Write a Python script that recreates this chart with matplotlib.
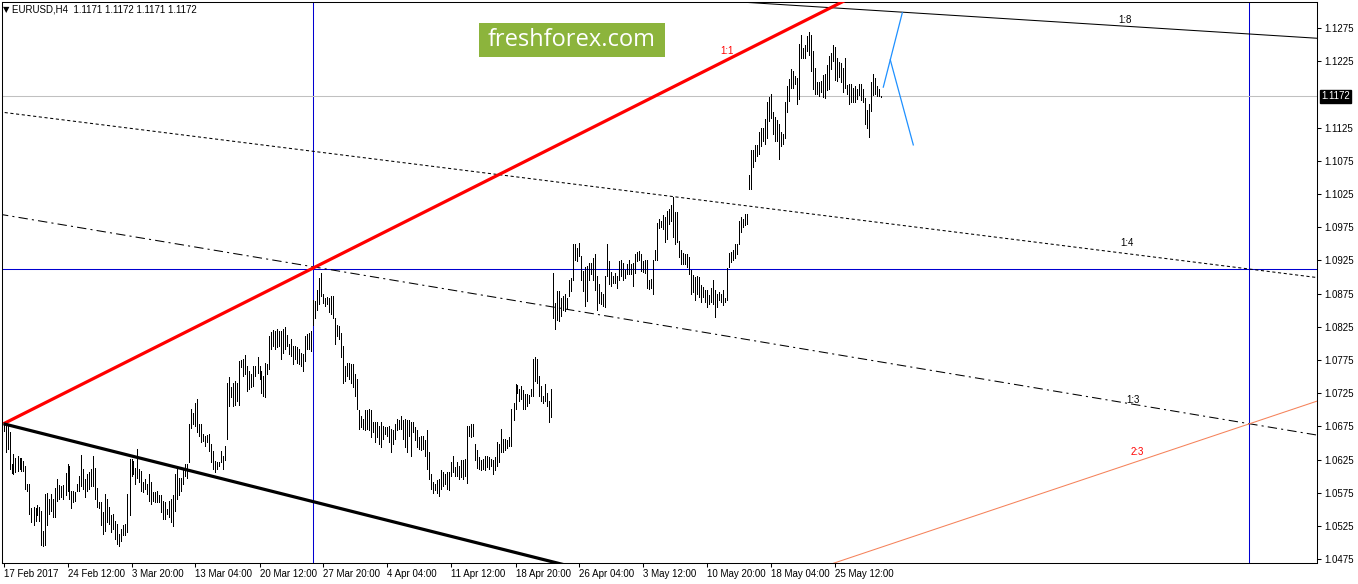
import matplotlib
matplotlib.use("Agg")
import matplotlib.pyplot as pl
import matplotlib.transforms as mtransforms
from matplotlib.patches import Rectangle
import numpy as np

WIDTH, HEIGHT, DPI = 1358, 584, 100

# H4 bar highs / lows in pips (1 pip = 0.0001)
highPips = [
	10680, 10680, 10676, 10667, 10618, 10633, 10628, 10631, 10628, 10627,
	10623, 10616, 10589, 10589, 10552, 10553, 10552, 10556, 10553, 10547,
	10518, 10573, 10575, 10566, 10573, 10566, 10583, 10596, 10587, 10586,
	10587, 10605, 10618, 10616, 10578, 10577, 10576, 10588, 10601, 10632,
	10611, 10596, 10603, 10606, 10611, 10631, 10612, 10583, 10561, 10561,
	10546, 10573, 10566, 10553, 10541, 10543, 10533, 10528, 10513, 10521,
	10526, 10528, 10573, 10626, 10626, 10623, 10613, 10641, 10611, 10608,
	10591, 10596, 10588, 10603, 10591, 10576, 10576, 10578, 10571, 10572,
	10563, 10561, 10551, 10563, 10566, 10571, 10603, 10613, 10598, 10598,
	10611, 10618, 10618, 10678, 10701, 10695, 10711, 10716, 10679, 10678,
	10663, 10661, 10662, 10663, 10648, 10638, 10623, 10621, 10622, 10638, 10631,
	10646, 10741, 10749, 10734, 10741, 10744, 10741, 10774, 10775, 10776,
	10782, 10766, 10759, 10754, 10766, 10766, 10779, 10766, 10759, 10751,
	10771, 10769, 10811, 10817, 10820, 10819, 10821, 10819, 10819, 10821,
	10825, 10812, 10799, 10806, 10796, 10796, 10794, 10791, 10786, 10784,
	10811, 10814, 10816, 10819, 10866, 10864, 10881, 10899, 10906, 10874,
	10869, 10870, 10869, 10871, 10872, 10839, 10827, 10826, 10816, 10796,
	10766, 10771, 10771, 10769, 10769, 10754, 10746, 10699, 10691, 10686,
	10699, 10699, 10701, 10699, 10681, 10682, 10681, 10676, 10681, 10676,
	10674, 10674, 10676, 10671, 10669, 10679, 10686, 10684, 10691, 10684,
	10686, 10684, 10684, 10681, 10681, 10674, 10669, 10659, 10661, 10661,
	10654, 10669, 10636, 10604, 10591, 10589, 10594, 10596, 10609, 10606,
	10604, 10606, 10607, 10621, 10631, 10614, 10621, 10616, 10624, 10624,
	10626, 10675, 10676, 10679, 10679, 10649, 10639, 10629, 10624, 10626,
	10631, 10631, 10629, 10626, 10624, 10629, 10652, 10649, 10671, 10656,
	10656, 10655, 10659, 10701, 10711, 10739, 10737, 10731, 10736, 10730,
	10724, 10724, 10722, 10731, 10776, 10779, 10777, 10751, 10736, 10721,
	10739, 10726, 10714, 10732, 10906, 10861, 10879, 10879, 10869, 10871,
	10874, 10869, 10896, 10899, 10950, 10950, 10944, 10951, 10931, 10909,
	10915, 10917, 10921, 10921, 10929, 10935, 10901, 10889, 10877, 10874,
	10902, 10949, 10924, 10907, 10901, 10906, 10901, 10924, 10926, 10921,
	10911, 10919, 10926, 10919, 10921, 10934, 10937, 10939, 10934, 10924,
	10926, 10926, 10896, 10897, 10926, 10941, 10981, 10987, 10984,
	10993, 10991, 11000, 11003, 11008, 11020, 10998, 10998, 10955, 10940,
	10936, 10935, 10935, 10930, 10910, 10903, 10900, 10901, 10900, 10888,
	10885, 10880, 10880, 10873, 10883, 10895, 10880, 10875, 10878, 10875,
	10880, 10868, 10913, 10936, 10938, 10940, 10950, 10950, 10985, 10991,
	10988, 10995, 10995, 11053, 11091, 11091, 11099, 11099, 11118, 11124,
	11124, 11138, 11164, 11171, 11175, 11149, 11141, 11136, 11130, 11118,
	11115, 11163, 11188, 11198, 11214, 11211, 11203, 11200, 11251, 11265,
	11245, 11250, 11263, 11269, 11265, 11240, 11215, 11194, 11193, 11195,
	11205, 11206, 11220, 11233, 11238, 11250, 11246, 11230, 11224, 11223,
	11215, 11230, 11189, 11190, 11190, 11185, 11188, 11183, 11191, 11190,
	11183, 11170, 11151, 11161, 11193, 11206, 11199, 11188, 11183, 11172,
]

lowPips = [
	10668, 10637, 10641, 10611, 10605, 10603, 10607, 10608, 10611, 10608,
	10608, 10581, 10577, 10543, 10531, 10526, 10533, 10541, 10533, 10496,
	10495, 10496, 10527, 10543, 10548, 10538, 10538, 10563, 10566, 10568,
	10566, 10571, 10578, 10566, 10552, 10561, 10563, 10577, 10578, 10586,
	10581, 10568, 10578, 10581, 10586, 10586, 10566, 10553, 10552, 10526,
	10513, 10518, 10531, 10528, 10516, 10521, 10506, 10498, 10495, 10503,
	10511, 10511, 10516, 10541, 10601, 10603, 10588, 10598, 10591, 10578,
	10576, 10581, 10573, 10563, 10558, 10563, 10561, 10561, 10561, 10546,
	10536, 10536, 10543, 10538, 10531, 10525, 10548, 10566, 10572, 10578,
	10588, 10601, 10598, 10621, 10673, 10678, 10676, 10666, 10661, 10651,
	10653, 10646, 10651, 10638, 10621, 10611, 10606, 10611, 10615, 10621, 10611,
	10624, 10656, 10706, 10719, 10706, 10708, 10714, 10708, 10765, 10751,
	10754, 10729, 10731, 10734, 10736, 10751, 10756, 10746, 10726, 10721,
	10719, 10754, 10761, 10791, 10796, 10791, 10794, 10796, 10776, 10786,
	10791, 10796, 10784, 10781, 10769, 10776, 10771, 10769, 10766, 10759,
	10774, 10791, 10791, 10789, 10827, 10839, 10851, 10859, 10871, 10861,
	10856, 10859, 10847, 10844, 10839, 10799, 10811, 10806, 10779, 10741,
	10744, 10751, 10746, 10741, 10734, 10721, 10701, 10671, 10674, 10671,
	10669, 10671, 10669, 10659, 10666, 10651, 10659, 10649, 10644, 10656,
	10664, 10661, 10651, 10636, 10649, 10656, 10669, 10671, 10671, 10656,
	10644, 10636, 10661, 10631, 10666, 10654, 10644, 10641, 10639, 10641,
	10631, 10611, 10596, 10581, 10574, 10579, 10574, 10570, 10581, 10586,
	10589, 10581, 10579, 10601, 10606, 10601, 10601, 10596, 10599, 10596,
	10601, 10590, 10660, 10659, 10661, 10624, 10612, 10611, 10609, 10611,
	10609, 10614, 10611, 10616, 10604, 10609, 10616, 10621, 10636, 10636,
	10639, 10642, 10646, 10646, 10684, 10701, 10726, 10714, 10716, 10701,
	10701, 10706, 10711, 10721, 10721, 10744, 10741, 10721, 10714, 10711,
	10714, 10706, 10682, 10689, 10839, 10821, 10836, 10834, 10841, 10851,
	10849, 10854, 10871, 10879, 10896, 10926, 10924, 10931, 10896, 10879,
	10856, 10864, 10896, 10904, 10896, 10881, 10851, 10861, 10859, 10856,
	10855, 10901, 10889, 10886, 10891, 10891, 10884, 10896, 10901, 10896,
	10899, 10904, 10904, 10904, 10887, 10906, 10924, 10926, 10909, 10907,
	10906, 10884, 10882, 10884, 10874, 10926, 10926, 10974, 10975,
	10973, 10953, 10958, 10980, 10985, 10960, 10950, 10953, 10930, 10919,
	10920, 10920, 10915, 10904, 10875, 10878, 10866, 10875, 10870, 10863,
	10870, 10863, 10855, 10860, 10863, 10860, 10840, 10855, 10865, 10863,
	10858, 10863, 10865, 10915, 10923, 10925, 10928, 10935, 10950, 10968,
	10975, 10978, 10980, 11033, 11033, 11065, 11075, 11083, 11085, 11098,
	11105, 11100, 11110, 11135, 11140, 11115, 11105, 11105, 11078, 11098,
	11100, 11110, 11148, 11165, 11185, 11185, 11190, 11161, 11168, 11230,
	11230, 11230, 11240, 11235, 11211, 11183, 11175, 11176, 11173, 11178,
	11171, 11170, 11181, 11183, 11213, 11225, 11196, 11195, 11201, 11193,
	11178, 11185, 11175, 11161, 11164, 11163, 11163, 11168, 11174, 11166,
	11163, 11130, 11125, 11111, 11150, 11174, 11175, 11173, 11173, 11171,
]

tickBars = [0, 32, 64, 96, 128, 160, 192, 224, 256, 288, 320, 352, 384, 416]
tickLabels = ["17 Feb 2017", "24 Feb 12:00", "3 Mar 20:00", "13 Mar 04:00",
	"20 Mar 12:00", "27 Mar 20:00", "4 Apr 04:00", "11 Apr 12:00",
	"18 Apr 20:00", "26 Apr 04:00", "3 May 12:00", "10 May 20:00",
	"18 May 04:00", "25 May 12:00"]
# 1.1175 sits under the last-price box, so the terminal hides it
priceTicks = [1.0475, 1.0525, 1.0575, 1.0625, 1.0675, 1.0725, 1.0775, 1.0825,
	1.0875, 1.0925, 1.0975, 1.1025, 1.1075, 1.1125, 1.1225, 1.1275]

lastPrice = 1.1172
headerText = "EURUSD,H4  1.1171 1.1172 1.1171 1.1172"

# gann construction (bar index, price)
fanOriginBar, fanOriginPrice = 0, 1.0679
fanUnit = 0.0001515              # price per bar of the 1:1 line
gridBars = [155, 623]
gridPrice = 1.0912
# (ratio, anchor bar, anchor price, style, colour, width)
gannRays = [
	(-1 / 4, 623, 1.0912, (0, (3, 2.5)), "black", 0.75),
	(-1 / 3, 623, 1.0679, (0, (9, 4, 2, 4)), "black", 0.75),
	(2 / 3, 623, 1.0679, "-", "#f5825a", 0.75),
	(-1 / 8, 623, 1.1266, "-", "black", 0.75),
]
gannLabels = [
	("1:1", 362, 1.1240, "red"),
	("1:8", 561, 1.1287, "black"),
	("1:4", 562, 1.0951, "black"),
	("1:3", 565, 1.0715, "black"),
	("2:3", 567, 1.0636, "red"),
]
# forecast legs drawn by hand (bars, prices)
forecastUpBars, forecastUpPrices = [439.9, 449.4], [1.1186, 1.1298]
forecastDownBars, forecastDownPrices = [443.4, 454.9], [1.1227, 1.1099]

pl.rcParams["font.family"] = ["Liberation Sans", "DejaVu Sans"]
pl.rcParams["font.size"] = 7

def pixelBox(left, top, right, bottom):
	return [left / WIDTH, 1 - bottom / HEIGHT, (right - left) / WIDTH, (bottom - top) / HEIGHT]

figure = pl.figure(figsize=(WIDTH / DPI, HEIGHT / DPI), dpi=DPI)
axes = figure.add_axes(pixelBox(2, 2, 1317, 563))

highs = np.array(highPips) / 10000
lows = np.array(lowPips) / 10000
bars = np.arange(len(highs))

# 2 pixels per bar, bars centred on pixel centres
axes.set_xlim(-0.75, 656.75)
axes.set_ylim(1.04693, 1.13142)

# grid / crosshair lines of the gann box
for gridBar in gridBars:
	axes.axvline(gridBar, color="#0000d0", linewidth=0.75)
axes.axhline(gridPrice, color="#0000d0", linewidth=0.75)
axes.axhline(lastPrice, color="#c0c0c0", linewidth=0.75)

# price bars
barLines = axes.vlines(bars, lows, highs, colors="black", linewidth=0.7,
	antialiased=False, zorder=3)
barLines.set_snap(True)

span = np.array([-10, 700])
for ratio, anchorBar, anchorPrice, style, colour, width in gannRays:
	axes.plot(span, anchorPrice + ratio * fanUnit * (span - anchorBar),
		linestyle=style, color=colour, linewidth=width, zorder=4)

rayEnd = np.array([fanOriginBar, 700])
axes.plot(rayEnd, fanOriginPrice + fanUnit * (rayEnd - fanOriginBar),
	color="#ff0000", linewidth=2.3, solid_capstyle="butt", zorder=5)
axes.plot(rayEnd, fanOriginPrice - 0.5 * fanUnit * (rayEnd - fanOriginBar),
	color="black", linewidth=2.3, solid_capstyle="butt", zorder=5)

for text, bar, price, colour in gannLabels:
	axes.text(bar, price, text, color=colour, fontsize=7, ha="center", va="center", zorder=6)

axes.plot(forecastUpBars, forecastUpPrices, color="#1e90ff", linewidth=0.9, zorder=6)
axes.plot(forecastDownBars, forecastDownPrices, color="#1e90ff", linewidth=0.9, zorder=6)

# axes styling
axes.set_xticks(tickBars)
axes.set_xticklabels(tickLabels, ha="left")
axes.yaxis.tick_right()
axes.set_yticks(priceTicks)
axes.set_yticklabels([f"{p:.4f}" for p in priceTicks])
axes.tick_params(axis="x", direction="out", length=3, width=0.75, pad=1.5, labelsize=7)
axes.tick_params(axis="y", direction="out", length=3, width=0.75, pad=2.5, labelsize=7)
for spine in axes.spines.values():
	spine.set_linewidth(0.75)
	spine.set_color("black")

priceTransform = mtransforms.blended_transform_factory(axes.transAxes, axes.transData)
axes.text(1.0 + 4 / 1315, lastPrice, "1.1172", transform=priceTransform, color="white",
	fontsize=7, ha="left", va="center", clip_on=False,
	bbox=dict(boxstyle="square,pad=0.15", facecolor="black", edgecolor="black"))

# watermark
figure.patches.append(Rectangle((479 / WIDTH, 1 - 57 / HEIGHT), 186 / WIDTH, 34 / HEIGHT,
	transform=figure.transFigure, facecolor="#8cb43c", edgecolor="none", zorder=10))
figure.text(572 / WIDTH, 1 - 40 / HEIGHT, "freshforex.com", family="Open Sans", fontsize=17,
	color="white", ha="center", va="center", zorder=11)

figure.text(3 / WIDTH, 1 - 10 / HEIGHT, "\u25bc", fontsize=6, ha="left", va="center",
	family=["DejaVu Sans"])
figure.text(12 / WIDTH, 1 - 10 / HEIGHT, headerText, fontsize=7, ha="left", va="center")

figure.savefig("out.png", dpi=DPI, facecolor="white")
pl.close(figure)
